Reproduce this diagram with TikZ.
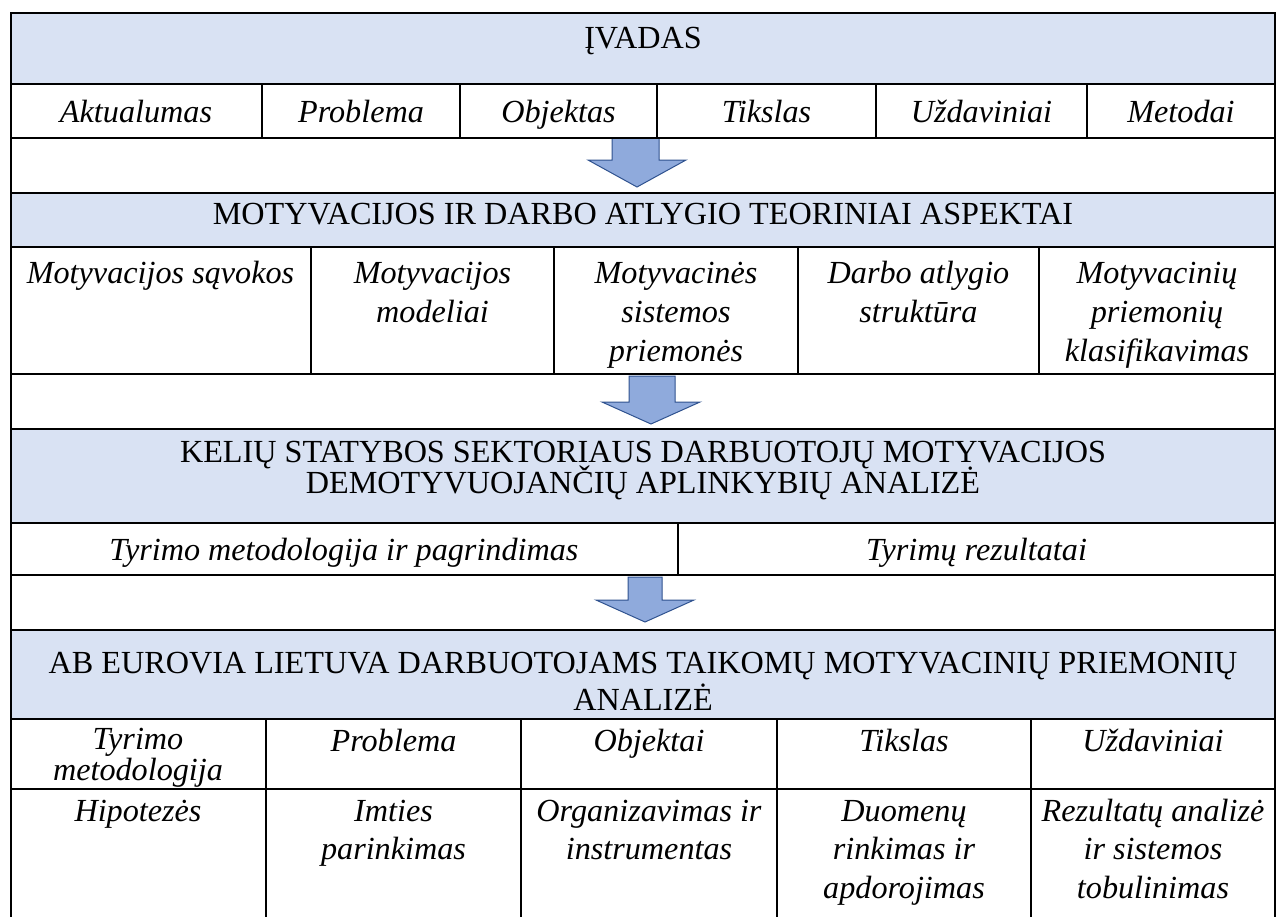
\documentclass[tikz,border=0pt]{standalone}
\usepackage{fontspec}
\setmainfont{Liberation Serif}
\definecolor{bandblue}{HTML}{D9E2F3}
\definecolor{arrowfill}{HTML}{8FAADC}
\definecolor{arrowedge}{HTML}{2F528F}
% strut that fixes the top of the first line of every cell text
\newcommand{\topstrut}{\rule{0pt}{30pt}}
% fixed baseline distance, whatever the line contents
\newcommand{\cellsize}[1]{\fontsize{32.2}{#1}\selectfont\lineskiplimit-50pt\relax}

\begin{document}
\begin{tikzpicture}[x=1pt,y=-1pt,
  rule/.style={line width=2.6pt,line cap=rect},
  band/.style={fill=bandblue},
  blockarrow/.style={fill=arrowfill,draw=arrowedge,line width=1pt,line join=miter},
  head/.style={inner sep=0pt,anchor=north,align=center,font={\cellsize{#1}}},
  head/.default=37,
  item/.style={inner sep=0pt,anchor=north,align=center,font={\cellsize{#1}\itshape}},
  item/.default=38]
\useasboundingbox (0,0) rectangle (1277,916);

% shaded section bands
\fill[band] (11,13)  rectangle (1275,84);
\fill[band] (11,193) rectangle (1275,247);
\fill[band] (11,429) rectangle (1275,523);
\fill[band] (11,630) rectangle (1275,719);

% block arrows between the sections
\draw[blockarrow] (612,138) -- (612,160) -- (588,160) -- (637,187) -- (686,160)
  -- (659,160) -- (659,138) -- cycle;
\draw[blockarrow] (629,376) -- (629,402) -- (602,402) -- (651,424) -- (700,402)
  -- (675,402) -- (675,376) -- cycle;
\draw[blockarrow] (628,577) -- (628,600) -- (596,600) -- (645,622) -- (694,600)
  -- (662,600) -- (662,577) -- cycle;

% horizontal rules
\foreach \y in {13,84,138,193,247,374,429,523,575,630,719,789}
  \draw[rule] (11,\y) -- (1275,\y);
% outer frame sides (open at the bottom)
\draw[rule] (11,13) -- (11,916);
\draw[rule] (1275,13) -- (1275,916);
% column rules
\foreach \x in {262,460,657,876,1087} \draw[rule] (\x,84) -- (\x,138);
\foreach \x in {311,554,798,1039} \draw[rule] (\x,247) -- (\x,374);
\draw[rule] (678,523) -- (678,575);
\foreach \x in {266,521,777,1031} \draw[rule] (\x,719) -- (\x,916);

% section 1: introduction
\node[head] (ivadas) at (643,18) {\topstrut ĮVADAS};
\node[item] (a1) at (136,92)   {\topstrut Aktualumas};
\node[item] (a2) at (361,92)   {\topstrut Problema};
\node[item] (a3) at (558.5,92) {\topstrut Objektas};
\node[item] (a4) at (766.5,92) {\topstrut Tikslas};
\node[item] (a5) at (981.5,92) {\topstrut Uždaviniai};
\node[item] (a6) at (1181,92)  {\topstrut Metodai};

% section 2: theory
\node[head] (teorija) at (643,194) {\topstrut MOTYVACIJOS IR DARBO ATLYGIO TEORINIAI ASPEKTAI};
\node[item=39] (b1) at (160.5,253) {\topstrut Motyvacijos sąvokos};
\node[item=39] (b2) at (432.5,253) {\topstrut Motyvacijos\\modeliai};
\node[item=39] (b3) at (676,253)   {\topstrut Motyvacinės\\sistemos\\priemonės};
\node[item=39] (b4) at (918.5,253) {\topstrut Darbo atlygio\\struktūra};
\node[item=39] (b5) at (1157,253)  {\topstrut Motyvacinių\\priemonių\\klasifikavimas};

% section 3: sector analysis
\node[head=31] (sektorius) at (643,432) {\topstrut KELIŲ STATYBOS SEKTORIAUS DARBUOTOJŲ MOTYVACIJOS\\DEMOTYVUOJANČIŲ APLINKYBIŲ ANALIZĖ};
\node[item] (c1) at (344,530)   {\topstrut Tyrimo metodologija ir pagrindimas};
\node[item] (c2) at (976.5,530) {\topstrut Tyrimų rezultatai};

% section 4: company analysis
\node[head=37] (eurovia) at (643,643) {\topstrut AB EUROVIA LIETUVA DARBUOTOJAMS TAIKOMŲ MOTYVACINIŲ PRIEMONIŲ\\ANALIZĖ};
\node[item=31] (d1) at (138,719)   {\topstrut Tyrimo\\metodologija};
\node[item=31] (d2) at (393.5,721) {\topstrut Problema};
\node[item=31] (d3) at (649,721)   {\topstrut Objektai};
\node[item=31] (d4) at (904,721)   {\topstrut Tikslas};
\node[item=31] (d5) at (1153,721)  {\topstrut Uždaviniai};
\node[item=38.5] (e1) at (138,791)   {\topstrut Hipotezės};
\node[item=38.5] (e2) at (393.5,791) {\topstrut Imties\\parinkimas};
\node[item=38.5] (e3) at (649,791)   {\topstrut Organizavimas ir\\instrumentas};
\node[item=38.5] (e4) at (904,791)   {\topstrut Duomenų\\rinkimas ir\\apdorojimas};
\node[item=38.5] (e5) at (1153,791)  {\topstrut Rezultatų analizė\\ir sistemos\\tobulinimas};
\end{tikzpicture}
\end{document}
